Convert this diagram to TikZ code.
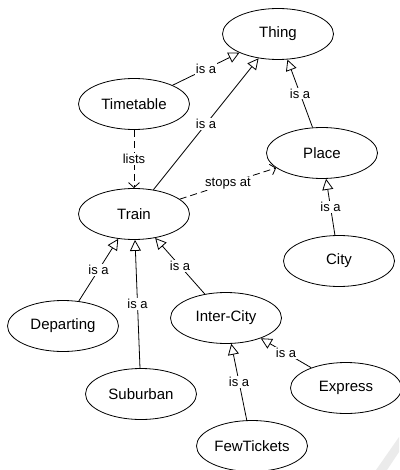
\documentclass[tikz,border=0pt]{standalone}
\usepackage{fontspec}
\setmainfont{Liberation Sans}
\usetikzlibrary{
  shapes.geometric,
  arrows.meta
}

\tikzset{
  concept/.style={draw, ellipse, line width=0.8pt, minimum width=111pt,
    minimum height=51pt, inner sep=0pt, font=\fontsize{15}{18}\selectfont},
  isa/.style={line width=0.8pt, -{Triangle[open, length=11pt, width=11pt, fill=white]}},
  relation/.style={line width=0.8pt, dash pattern=on 7pt off 4pt,
    -{Straight Barb[length=5pt, width=11pt]}},
  edgelabel/.style={fill=white, inner sep=1pt, font=\fontsize{13}{15}\selectfont}
}

\begin{document}
\begin{tikzpicture}[x=1pt, y=-1pt]
      \useasboundingbox (0,0) rectangle (399,470);

      % Shadow in the corner
      \fill[black!8] (376,470) -- (387,470) -- (399,452) -- (399,437) -- cycle;

      % Concepts
      \node[concept] (thing) at (278,34) {Thing};
      \node[concept] (timetable) at (134,104) {Timetable};
      \node[concept] (place) at (322,153) {Place};
      \node[concept] (train) at (134,214) {Train};
      \node[concept] (city) at (339,261) {City};
      \node[concept] (intercity) at (226,318) {Inter-City};
      \node[concept] (departing) at (63,326) {Departing};
      \node[concept] (express) at (346,388) {Express};
      \node[concept] (suburban) at (141,394) {Suburban};
      \node[concept] (fewtickets) at (252,446) {FewTickets};

      % Subclass links
      \draw[isa] (timetable) -- (thing) node[midway, edgelabel] {is a};
      \draw[isa] (train) -- (thing) node[midway, edgelabel] {is a};
      \draw[isa] (place) -- (thing) node[midway, edgelabel] {is a};
      \draw[isa] (city) -- (place) node[midway, edgelabel] {is a};
      \draw[isa] (departing) -- (train) node[midway, edgelabel] {is a};
      \draw[isa] (suburban) -- (train) node[midway, edgelabel] {is a};
      \draw[isa] (intercity) -- (train) node[midway, edgelabel] {is a};
      \draw[isa] (fewtickets) -- (intercity) node[midway, edgelabel] {is a};
      \draw[isa] (express) -- (intercity) node[midway, edgelabel] {is a};

      % Other relations
      \draw[relation] (timetable) -- (train) node[midway, edgelabel] {lists};
      \draw[relation] (train) -- (place) node[midway, edgelabel] {stops at};
    \end{tikzpicture}
\end{document}
